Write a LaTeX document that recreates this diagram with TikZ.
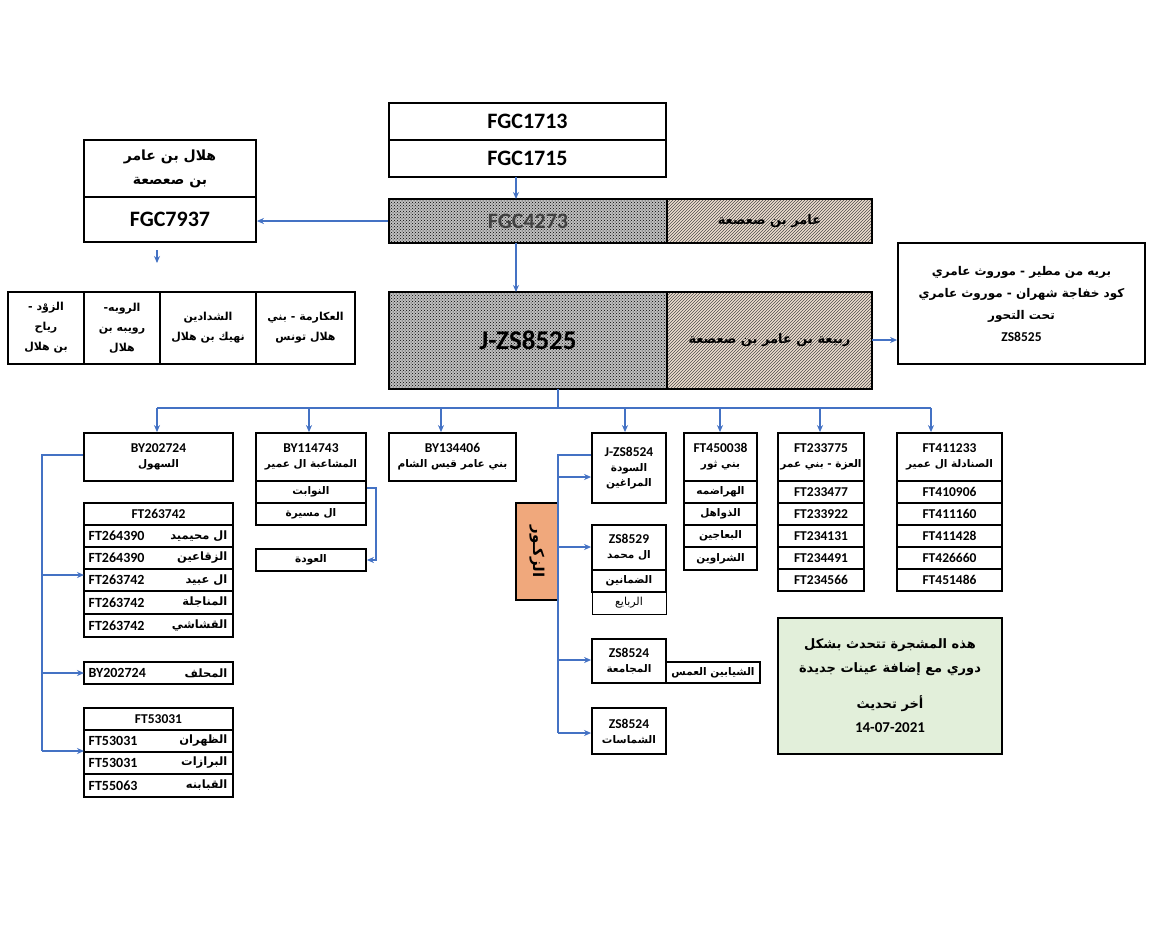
\documentclass[tikz,border=0pt]{standalone}
\usepackage{fontspec}
\setmainfont{Carlito}
\newfontfamily\arabicfont[Script=Arabic]{DejaVu Sans}
\TeXXeTstate=1
\usetikzlibrary{patterns,arrows.meta}
\newcommand{\AR}[1]{{\arabicfont\beginR #1\endR}}
\newcommand{\LT}[1]{{\fontsize{13.5}{15}\selectfont #1}}
\definecolor{cblue}{HTML}{4472C4}
\tikzset{
 cell/.style={draw,line width=1.8pt,inner sep=0pt,align=center,font=\bfseries\fontsize{10.5}{15}\selectfont},
 conn/.style={draw=cblue,line width=1.3pt,-{Stealth[length=7pt,width=6pt]}},
 lin/.style={draw=cblue,line width=1.3pt},
}
\newcommand\bx[7][]{\node[cell,minimum width={(#5-#3)*1pt},minimum height={(#6-#4)*1pt},#1] (#2) at ({(#3+#5)/2},{(#4+#6)/2}) {#7};}
\begin{document}
\begin{tikzpicture}[x=1pt,y=-1pt]
\useasboundingbox[fill=white] (0,0) rectangle (1170,930);
% top
\bx[font=\bfseries\fontsize{22}{24}\selectfont]{f13}{389}{103}{666}{140}{FGC1713}
\bx[font=\bfseries\fontsize{22}{24}\selectfont]{f15}{389}{140}{666}{177}{FGC1715}
% FGC4273 row
\fill[gray!50] (389,199) rectangle (667,243);
\path[pattern=crosshatch dots,pattern color=black] (389,199) rectangle (667,243);
\fill[brown!25] (667,199) rectangle (872,243);
\path[pattern=north east lines,pattern color=black!70] (667,199) rectangle (872,243);
\bx[font=\bfseries\fontsize{22}{24}\selectfont,text=black!75]{h1}{389}{199}{667}{243}{FGC4273}
\bx[font=\bfseries\fontsize{13}{16}\selectfont]{h2}{667}{199}{872}{243}{\AR{عامر بن صعصعة}}
% left top box
\bx[font=\bfseries\fontsize{14}{24}\selectfont]{hil}{84}{140}{256}{197}{\AR{هلال بن عامر}\\ \AR{بن صعصعة}}
\bx[font=\bfseries\fontsize{22}{24}\selectfont]{f79}{84}{197}{256}{242}{FGC7937}
\coordinate (a1) at (157,250);
\draw[conn] (a1) -- (157,263);
% JZS8525 row
\fill[gray!50] (389,292) rectangle (667,389);
\path[pattern=crosshatch dots,pattern color=black] (389,292) rectangle (667,389);
\fill[brown!25] (667,292) rectangle (872,389);
\path[pattern=north east lines,pattern color=black!70] (667,292) rectangle (872,389);
\bx[font=\bfseries\fontsize{27}{30}\selectfont]{j1}{389}{292}{667}{389}{J-ZS8525}
\bx[font=\bfseries\fontsize{13}{16}\selectfont]{j2}{667}{292}{872}{389}{\AR{ربيعة بن عامر بن صعصعة}}
\bx[font=\bfseries\fontsize{12}{22}\selectfont]{rb}{898}{243}{1145}{364}{\AR{بريه من مطير - موروث عامري}\\ \AR{كود  خفاجة شهران - موروث عامري}\\ \AR{تحت التحور}\\ \LT{ZS8525}}
% left tribes
\bx[font=\bfseries\fontsize{11}{20}\selectfont]{t1}{256}{292}{355}{364}{\AR{العكارمة - بني}\\ \AR{هلال تونس}}
\bx[font=\bfseries\fontsize{11}{20}\selectfont]{t2}{160}{292}{256}{364}{\AR{الشدادين}\\ \AR{نهيك بن هلال}}
\bx[font=\bfseries\fontsize{11}{20}\selectfont]{t3}{84}{292}{160}{364}{\AR{الروبه-}\\ \AR{رويبه بن}\\ \AR{هلال}}
\bx[font=\bfseries\fontsize{11}{20}\selectfont]{t4}{8}{292}{84}{364}{\AR{الزوْد -}\\ \AR{رياح}\\ \AR{بن هلال}}
% connectors top
\draw[conn] (516,177) -- (516,199);
\draw[conn] (h1.west) -- (f79.east |- h1.west);
\draw[conn] (516,243) -- (516,292);
\draw[conn] (872,340) -- (rb.west |- 0,340);
% row boxes
\bx{by2}{84}{433}{233}{481}{\LT{BY202724}\\ \AR{السهول}}
\bx{by1}{256}{433}{366}{481}{\LT{BY114743}\\ \AR{المشاعبة ال عمير}}
\bx{by1a}{256}{481}{366}{503}{\AR{النوابت}}
\bx{by1b}{256}{503}{366}{525}{\AR{ال مسيرة}}
\bx{awd}{256}{549}{366}{571}{\AR{العودة}}
\bx{by3}{389}{433}{516}{481}{\LT{BY134406}\\ \AR{بني عامر قيس الشام}}
\bx{jz4}{592}{433}{666}{503}{\LT{J-ZS8524}\\ \AR{السودة}\\ \AR{المراغين}}
\bx{ft45}{684}{433}{757}{481}{\LT{FT450038}\\ \AR{بني ثور}}
\bx{ft45a}{684}{481}{757}{503}{\AR{الهراضمه}}
\bx{ft45b}{684}{503}{757}{525}{\AR{الذواهل}}
\bx{ft45c}{684}{525}{757}{547}{\AR{البعاجين}}
\bx{ft45d}{684}{547}{757}{570}{\AR{الشراوين}}
\bx{ft23}{778}{433}{864}{481}{\LT{FT233775}\\ \AR{العزة - بني عمر}}
\bx{ft23a}{778}{481}{864}{503}{\LT{FT233477}}
\bx{ft23b}{778}{503}{864}{525}{\LT{FT233922}}
\bx{ft23c}{778}{525}{864}{547}{\LT{FT234131}}
\bx{ft23d}{778}{547}{864}{569}{\LT{FT234491}}
\bx{ft23e}{778}{569}{864}{591}{\LT{FT234566}}
\bx{ft41}{897}{433}{1002}{481}{\LT{FT411233}\\ \AR{الصنادلة ال عمير}}
\bx{ft41a}{897}{481}{1002}{503}{\LT{FT410906}}
\bx{ft41b}{897}{503}{1002}{525}{\LT{FT411160}}
\bx{ft41c}{897}{525}{1002}{547}{\LT{FT411428}}
\bx{ft41d}{897}{547}{1002}{569}{\LT{FT426660}}
\bx{ft41e}{897}{569}{1002}{591}{\LT{FT451486}}
% bus
\coordinate (bus) at (558,408);
\draw[lin] (558,389) -- (bus);
\draw[lin] (157,408) -- (931,408);
\foreach \n/\xx in {by2/157,by1/309,by3/441,jz4/625,ft45/720,ft23/820,ft41/931}
  \draw[conn] (\xx,408) -- (\n.north -| \xx,0);
% zukur
\node[draw,line width=1.8pt,fill={rgb,255:red,240;green,168;blue,124},minimum width=42pt,minimum height=97pt,inner sep=0pt] (zk) at (537,551.5) {};
\node[rotate=-90,font=\bfseries\fontsize{15}{16}\selectfont] (zkt) at (zk.center) {\AR{الزكـور}};
\bx{zs29}{592}{525}{666}{570}{\LT{ZS8529}\\ \AR{ال محمد}}
\bx{zs29a}{592}{570}{666}{592}{\AR{الضمانين}}
\node[draw,line width=0.8pt,minimum width=74pt,minimum height=22pt,inner sep=0pt,font=\fontsize{11}{14}\selectfont] (zs29b) at (629,603) {\AR{الربايع}};
\bx{zs24a}{592}{639}{666}{683}{\LT{ZS8524}\\ \AR{المجامعة}}
\bx{shy}{666}{662}{760}{683}{\AR{الشيابين العمس}}
\bx{zs24b}{592}{708}{666}{754}{\LT{ZS8524}\\ \AR{الشماسات}}
\draw[lin] (jz4.west |- 0,455) -- (558,455) -- (558,733);
\foreach \n/\yy in {jz4/477,zs29/547,zs24a/660,zs24b/733}
  \draw[conn] (558,\yy) -- (\n.west |- 0,\yy);
% awda connector
\draw[conn] (by1a.east |- 0,488) -- (376,488) -- (376,560) -- (awd.east |- 0,560);
% note
\node[draw,line width=1.8pt,fill={rgb,255:red,226;green,239;blue,218},minimum width=224pt,minimum height=136pt,align=center,font=\bfseries\fontsize{13}{24}\selectfont] (note) at (890,686) {\AR{هذه المشجرة تتحدث بشكل}\\ \AR{دوري مع  إضافة عينات جديدة}\\[12pt] \AR{أخر تحديث}\\ {\fontsize{15}{24}\selectfont 14-07-2021}};
% left column
\bx{g0}{84}{503}{233}{525}{\LT{FT263742}}
\foreach \n/\ya/\yb/\cc/\tt in {g1/525/547/FT264390/ال محيميد,g2/547/569/FT264390/الزقاعين,g3/569/591/FT263742/ال عبيد,g4/591/614/FT263742/المناجلة,g5/614/637/FT263742/القشاشي,m1/662/684/BY202724/المحلف,h1a/730/752/FT53031/الظهران,h2a/752/774/FT53031/البرازات,h3a/774/797/FT55063/القبابنه}{
  \bx{\n}{84}{\ya}{233}{\yb}{}
  \node[anchor=west,font=\bfseries\fontsize{14}{16}\selectfont] at ([xshift=2pt]\n.west) {\cc};
  \node[anchor=east,font=\bfseries\fontsize{11.5}{16}\selectfont] at ([xshift=-3pt]\n.east) {\AR{\tt}};
}
\bx{k0}{84}{708}{233}{730}{\LT{FT53031}}
\draw[lin] (by2.west |- 0,455) -- (42,455) -- (42,751);
\foreach \n/\yy in {g0/575,m1/673,h1a/751}
  \draw[conn] (42,\yy) -- (84,\yy);
\end{tikzpicture}
\end{document}
